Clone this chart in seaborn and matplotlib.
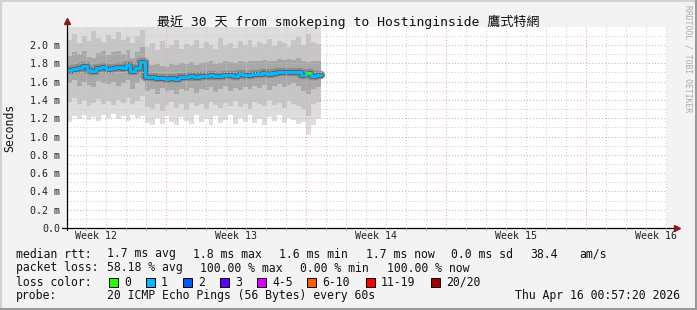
import numpy as np
import pandas as pd
import matplotlib
matplotlib.use("Agg")
import matplotlib.pyplot as plt
import seaborn as sns
from matplotlib.lines import Line2D
from matplotlib.patches import Rectangle

# ---------------- data ----------------
t_start = -0.95          # days (plot starts here)
t_step = 0.244           # sampling step in days
median = [1.73, 1.74, 1.75, 1.77, 1.73, 1.72, 1.75, 1.76, 1.74, 1.75, 1.76, 1.75, 1.78, 1.72, 1.75, 1.81,
          1.65, 1.65, 1.64, 1.64, 1.63, 1.64, 1.63, 1.65, 1.65, 1.66, 1.65, 1.66, 1.66, 1.67, 1.66, 1.66,
          1.67, 1.67, 1.66, 1.68, 1.67, 1.67, 1.68, 1.68, 1.69, 1.68, 1.69, 1.70, 1.70, 1.70, 1.70, 1.71,
          1.67, 1.69, 1.66, 1.67]
loss = [1] * 49 + [0] + [1, 1]
smoke_lo = [1.16, 1.22, 1.19, 1.24, 1.18, 1.21, 1.17, 1.23, 1.20, 1.25, 1.19, 1.22, 1.17, 1.24, 1.20, 1.22,
            1.15, 1.13, 1.20, 1.14, 1.22, 1.16, 1.13, 1.21, 1.17, 1.14, 1.23, 1.16, 1.19, 1.13, 1.22, 1.15,
            1.18, 1.24, 1.14, 1.20, 1.16, 1.23, 1.15, 1.19, 1.13, 1.21, 1.17, 1.24, 1.15, 1.20, 1.18, 1.14,
            1.16, 1.02, 1.13, 1.19]
smoke_l2 = [1.38, 1.42, 1.35, 1.40, 1.33, 1.37, 1.41, 1.36, 1.39, 1.34, 1.40, 1.37, 1.42, 1.35, 1.39, 1.44,
            1.32, 1.30, 1.36, 1.28, 1.34, 1.38, 1.31, 1.35, 1.29, 1.37, 1.33, 1.36, 1.30, 1.38, 1.34, 1.31,
            1.37, 1.33, 1.39, 1.32, 1.36, 1.30, 1.38, 1.35, 1.33, 1.40, 1.34, 1.37, 1.31, 1.39, 1.36, 1.33,
            1.30, 1.22, 1.35, 1.38]
smoke_l3 = [1.58, 1.62, 1.55, 1.60, 1.56, 1.54, 1.61, 1.58, 1.57, 1.60, 1.55, 1.59, 1.62, 1.52, 1.58, 1.64,
            1.50, 1.52, 1.47, 1.53, 1.49, 1.51, 1.46, 1.52, 1.50, 1.53, 1.48, 1.52, 1.51, 1.54, 1.49, 1.52,
            1.55, 1.50, 1.53, 1.51, 1.54, 1.52, 1.55, 1.53, 1.56, 1.51, 1.55, 1.57, 1.54, 1.56, 1.58, 1.55,
            1.50, 1.46, 1.52, 1.54]
smoke_u3 = [1.88, 1.92, 1.90, 1.94, 1.87, 1.86, 1.91, 1.93, 1.89, 1.92, 1.94, 1.90, 1.95, 1.86, 1.92, 1.98,
            1.80, 1.78, 1.79, 1.77, 1.76, 1.79, 1.78, 1.80, 1.79, 1.81, 1.78, 1.80, 1.81, 1.82, 1.79, 1.80,
            1.82, 1.81, 1.80, 1.83, 1.81, 1.82, 1.83, 1.82, 1.84, 1.82, 1.83, 1.85, 1.84, 1.85, 1.84, 1.86,
            1.83, 1.81, 1.82, 1.83]
smoke_u2 = [2.06, 2.12, 2.02, 2.10, 2.04, 2.15, 2.08, 2.03, 2.11, 2.07, 2.14, 2.05, 2.09, 2.02, 2.10, 2.16,
            1.98, 2.02, 1.95, 2.04, 1.97, 2.00, 2.06, 1.96, 2.01, 1.99, 2.05, 1.97, 2.03, 2.00, 1.96, 2.08,
            1.99, 2.02, 1.97, 2.04, 2.00, 2.06, 1.98, 2.03, 2.01, 2.07, 1.99, 2.04, 2.02, 1.98, 2.05, 2.09,
            2.00, 2.12, 2.03, 2.01]

week_labels = ["Week 12", "Week 13", "Week 14", "Week 15", "Week 16"]
week_label_pos = [0.5, 7.5, 14.5, 21.5, 28.5]
week_bounds = [4, 11, 18, 25]
y_ticks = [0.0, 0.2, 0.4, 0.6, 0.8, 1.0, 1.2, 1.4, 1.6, 1.8, 2.0]
y_ticklabels = ["0.0", "0.2 m", "0.4 m", "0.6 m", "0.8 m", "1.0 m", "1.2 m", "1.4 m", "1.6 m", "1.8 m", "2.0 m"]

title = "最近 30 天 from smokeping to Hostinginside 鷹式特網"
loss_labels = ["0", "1", "2", "3", "4-5", "6-10", "11-19", "20/20"]
loss_colors = ["#26ff00", "#00b8ff", "#0059ff", "#5e00ff", "#dd00ff", "#ff5e00", "#ff0000", "#a10000"]

# ---------------- figure ----------------
sns.set_theme(style="white")
plt.rcParams["font.family"] = ["DejaVu Sans Mono", "Noto Sans CJK TC"]
MONO = ["DejaVu Sans Mono", "Noto Sans CJK TC"]

W, H = 697, 310
fig = plt.figure(figsize=(W / 100, H / 100), dpi=100)
fig.patch.set_facecolor("#f3f3f3")

def fx(x):
    return x / W

def fy(y):
    return 1 - y / H

ax = fig.add_axes([67 / W, (H - 228) / H, 600 / W, 201 / H])
ax.set_facecolor("white")
ax.set_xlim(-0.95, 29.05)
ax.set_ylim(0, 2.197)

n = len(median)
t = t_start + t_step * np.arange(n)
te = np.append(t, t[-1] + t_step)

def ext(a):
    a = np.asarray(a, dtype=float)
    return np.append(a, a[-1])

top = np.full(n + 1, 2.5)
ax.fill_between(te, ext(smoke_lo), top, step="post", color="#dddddd", lw=0, zorder=1)
ax.fill_between(te, ext(smoke_l2), ext(smoke_u2), step="post", color="#c6c6c6", lw=0, zorder=1.1)
ax.fill_between(te, ext(smoke_l3), ext(smoke_u3), step="post", color="#a8a8a8", lw=0, zorder=1.2)

df = pd.DataFrame({"t": te, "median": ext(median)})
sns.lineplot(data=df, x="t", y="median", drawstyle="steps-post", color="#8c8c8c", lw=6, ax=ax, zorder=2)
sns.lineplot(data=df, x="t", y="median", drawstyle="steps-post", color="#5a5a5a", lw=3.4, ax=ax, zorder=2.1)

# grid (drawn above smoke)
dot = (0, (1, 2))
for d in range(0, 30):
    c = "#e8a8a8" if d in week_bounds else "#cccccc"
    ax.axvline(d, color=c, lw=0.75, ls=dot, zorder=3)
for k in range(1, 22):
    v = k / 10
    c = "#e8a8a8" if k % 2 == 0 else "#cccccc"
    ax.axhline(v, color=c, lw=0.75, ls=dot, zorder=3)

# median line coloured by loss
sns.lineplot(data=df, x="t", y="median", drawstyle="steps-post", color=loss_colors[1], lw=2.2, ax=ax, zorder=4)
for i, l in enumerate(loss):
    if l != 1:
        ax.plot([te[i], te[i + 1]], [median[i], median[i]], color=loss_colors[l], lw=2.2, zorder=4.1,
                solid_capstyle="butt")

ax.set_xlabel("")
ax.set_ylabel("")
for s in ax.spines.values():
    s.set_visible(False)
ax.grid(False)

ax.set_yticks(y_ticks)
ax.set_yticklabels(y_ticklabels, fontsize=7.2, family=MONO, color="#222222")
ax.set_xticks(week_label_pos)
ax.set_xticklabels(week_labels, fontsize=7.2, family=MONO, color="#222222")
ax.tick_params(axis="y", length=0, pad=5.0)
ax.tick_params(axis="x", length=0, pad=2.5)

# axes lines with arrows
ax.plot([-0.0083, 1.0167], [0, 0], transform=ax.transAxes, color="black", lw=0.9, clip_on=False, zorder=5)
ax.plot([0, 0], [-0.01, 1.03], transform=ax.transAxes, color="black", lw=0.9, clip_on=False, zorder=5)
ax.plot([1.0167], [0], transform=ax.transAxes, marker=">", ms=4.5, color="#8b1a1a", clip_on=False, zorder=6)
ax.plot([0], [1.03], transform=ax.transAxes, marker="^", ms=4.5, color="#8b1a1a", clip_on=False, zorder=6)
# small day ticks on x axis
for d in range(0, 30):
    c = "#d08080" if d in week_bounds else "#aaaaaa"
    ax.plot([d, d], [0, -0.012], transform=ax.get_xaxis_transform(), color=c, lw=0.7, clip_on=False, zorder=5)

# ---------------- texts ----------------
fig.text(fx(348), fy(21.5), title, fontsize=9.4, family=MONO, ha="center", va="center", color="#111111")
fig.text(fx(10), fy(128), "Seconds", fontsize=8.3, family=MONO, rotation=90, ha="center", va="center",
         color="#111111")
fig.text(fx(688), fy(59), "RRDTOOL / TOBI OETIKER", fontsize=5.8, family=MONO, rotation=270,
         ha="center", va="center", color="#aaaaaa")

fs = 8.3
def txt(x, y, s, ha="left"):
    fig.text(fx(x), fy(y), s, fontsize=fs, family=MONO, ha=ha, va="center", color="#111111")

y1, y2, y3, y4 = 254, 268, 282, 296
txt(16, y1, "median rtt:")
txt(107, y1, "1.7 ms avg")
txt(193, y1, "1.8 ms max")
txt(279, y1, "1.6 ms min")
txt(366, y1, "1.7 ms now")
txt(451, y1, "0.0 ms sd")
txt(530, y1, "38.4")
txt(579, y1, "am/s")

txt(16, y2, "packet loss:")
txt(107, y2, "58.18 % avg")
txt(200, y2, "100.00 % max")
txt(300, y2, "0.00 % min")
txt(387, y2, "100.00 % now")

txt(16, y3, "loss color:")
box_x = [109, 146, 183, 220, 257, 307, 366, 431]
for bx, lab, col in zip(box_x, loss_labels, loss_colors):
    fig.patches.append(Rectangle((fx(bx), fy(y3 + 4.5)), 9 / W, 9 / H, transform=fig.transFigure,
                                 facecolor=col, edgecolor="black", lw=0.7, figure=fig))
    txt(bx + 15, y3, lab)

txt(16, y4, "probe:")
txt(107, y4, "20 ICMP Echo Pings (56 Bytes) every 60s")
txt(680, y4, "Thu Apr 16 00:57:20 2026", ha="right")

# outer frame (3D look)
fig.add_artist(Line2D([0, 1], [fy(1), fy(1)], transform=fig.transFigure, color="#d2d2d2", lw=1.5))
fig.add_artist(Line2D([fx(1), fx(1)], [0, 1], transform=fig.transFigure, color="#d2d2d2", lw=1.5))
fig.add_artist(Line2D([0, 1], [fy(308.5), fy(308.5)], transform=fig.transFigure, color="#9a9a9a", lw=2.2))
fig.add_artist(Line2D([fx(695.5), fx(695.5)], [0, 1], transform=fig.transFigure, color="#9a9a9a", lw=2.2))

fig.savefig("out.png", dpi=100, facecolor=fig.get_facecolor())
